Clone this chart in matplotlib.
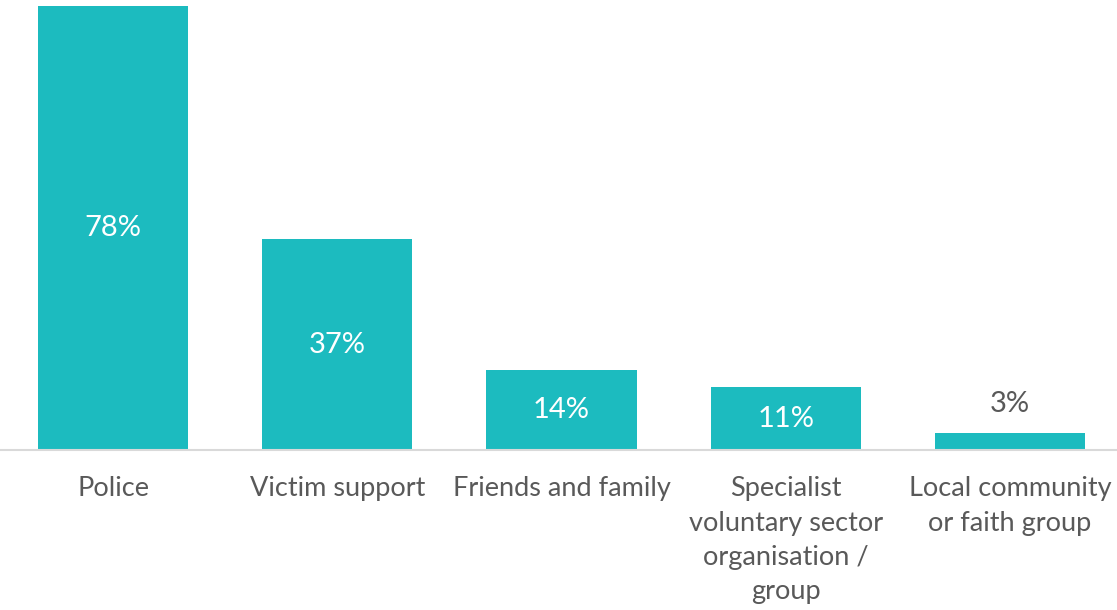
import matplotlib
matplotlib.use("Agg")
import matplotlib.pyplot as plt

categories = ["Police", "Victim support", "Friends and family",
              "Specialist\nvoluntary sector\norganisation /\ngroup",
              "Local community\nor faith group"]
values = [78, 37, 14, 11, 3]
labels = ["78%", "37%", "14%", "11%", "3%"]

plt.rcParams['font.family'] = ['Lato', 'DejaVu Sans']
fig = plt.figure(figsize=(11.17, 6.10), dpi=100)
ax = fig.add_axes([0, 160/610, 1, 450/610])
x = list(range(len(values)))
bars = ax.bar(x, values, width=0.67, color="#1CBBBF")
ax.set_xlim(-0.504, 4.477)
ax.set_ylim(0, 78 * 450 / 444)
for s in ["top", "right", "left"]:
    ax.spines[s].set_visible(False)
ax.spines["bottom"].set_color("#D9D9D9")
ax.spines["bottom"].set_linewidth(1.5)
ax.set_yticks([])
ax.set_xticks(x)
ax.set_xticklabels(categories, fontsize=19.5, color="#595959", linespacing=1.46, va="top")
ax.tick_params(axis="x", length=0, pad=19)
for xi, v, lab in zip(x, values, labels):
    if v >= 10:
        ax.text(xi, v / 2, lab, ha="center", va="center", fontsize=21, color="white")
    else:
        ax.text(xi, v + 5, lab, ha="center", va="center", fontsize=21, color="#595959")
fig.savefig("out.png", dpi=100)
